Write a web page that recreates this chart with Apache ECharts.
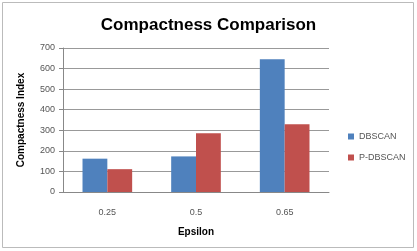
<!DOCTYPE html>
<html>
<head>
<meta charset="utf-8">
<script src="https://cdn.jsdelivr.net/npm/echarts@6/dist/echarts.min.js"></script>
<style>
  html, body { margin: 0; padding: 0; background: #fff; }
  #chart { width: 417px; height: 251px; }
</style>
</head>
<body>
<div id="chart"></div>
<script>
var epsilons = ['0.25', '0.5', '0.65'];
var dbscan = [162, 173, 645];
var pdbscan = [111, 286, 329];

var chart = echarts.init(document.getElementById('chart'), null, { renderer: 'canvas' });

var option = {
  animation: false,
  backgroundColor: '#fff',
  title: {
    text: 'Compactness Comparison',
    left: 'center',
    top: 12,
    textStyle: { fontFamily: 'Liberation Sans', fontWeight: 'bold', fontSize: 17, color: '#000' }
  },
  graphic: [{
    type: 'rect',
    shape: { x: 2.5, y: 2.5, width: 411, height: 245 },
    style: { fill: 'none', stroke: '#bbb', lineWidth: 1 }
  }],
  legend: {
    orient: 'vertical',
    left: 343,
    top: 127,
    itemWidth: 6,
    itemHeight: 6,
    itemGap: 12,
    icon: 'rect',
    textStyle: { fontFamily: 'Liberation Sans', fontSize: 9, color: '#555' }
  },
  grid: { left: 63, right: 88, top: 48, bottom: 59 },
  xAxis: {
    type: 'category',
    data: epsilons,
    name: 'Epsilon',
    nameLocation: 'middle',
    nameGap: 35,
    nameTextStyle: { fontFamily: 'Liberation Sans', fontWeight: 'bold', fontSize: 10, color: '#000' },
    axisLine: { lineStyle: { color: '#888' } },
    axisTick: { show: false },
    axisLabel: { fontFamily: 'Liberation Sans', fontSize: 9, color: '#555', margin: 16 }
  },
  yAxis: {
    type: 'value',
    min: 0,
    max: 700,
    interval: 100,
    name: 'Compactness Index',
    nameLocation: 'middle',
    nameGap: 37,
    nameTextStyle: { fontFamily: 'Liberation Sans', fontWeight: 'bold', fontSize: 10, color: '#000' },
    axisLine: { show: true, lineStyle: { color: '#888' } },
    axisTick: { show: true, length: 4, lineStyle: { color: '#888' } },
    axisLabel: { fontFamily: 'Liberation Sans', fontSize: 9, color: '#555', margin: 8 },
    splitLine: { lineStyle: { color: '#999' } }
  },
  series: [
    {
      name: 'DBSCAN',
      type: 'bar',
      data: dbscan,
      itemStyle: { color: '#4F81BD' },
      barGap: '0%',
      barCategoryGap: '44%'
    },
    {
      name: 'P-DBSCAN',
      type: 'bar',
      data: pdbscan,
      itemStyle: { color: '#C0504D' },
      barGap: '0%',
      barCategoryGap: '44%'
    }
  ]
};

chart.setOption(option);
</script>
</body>
</html>
